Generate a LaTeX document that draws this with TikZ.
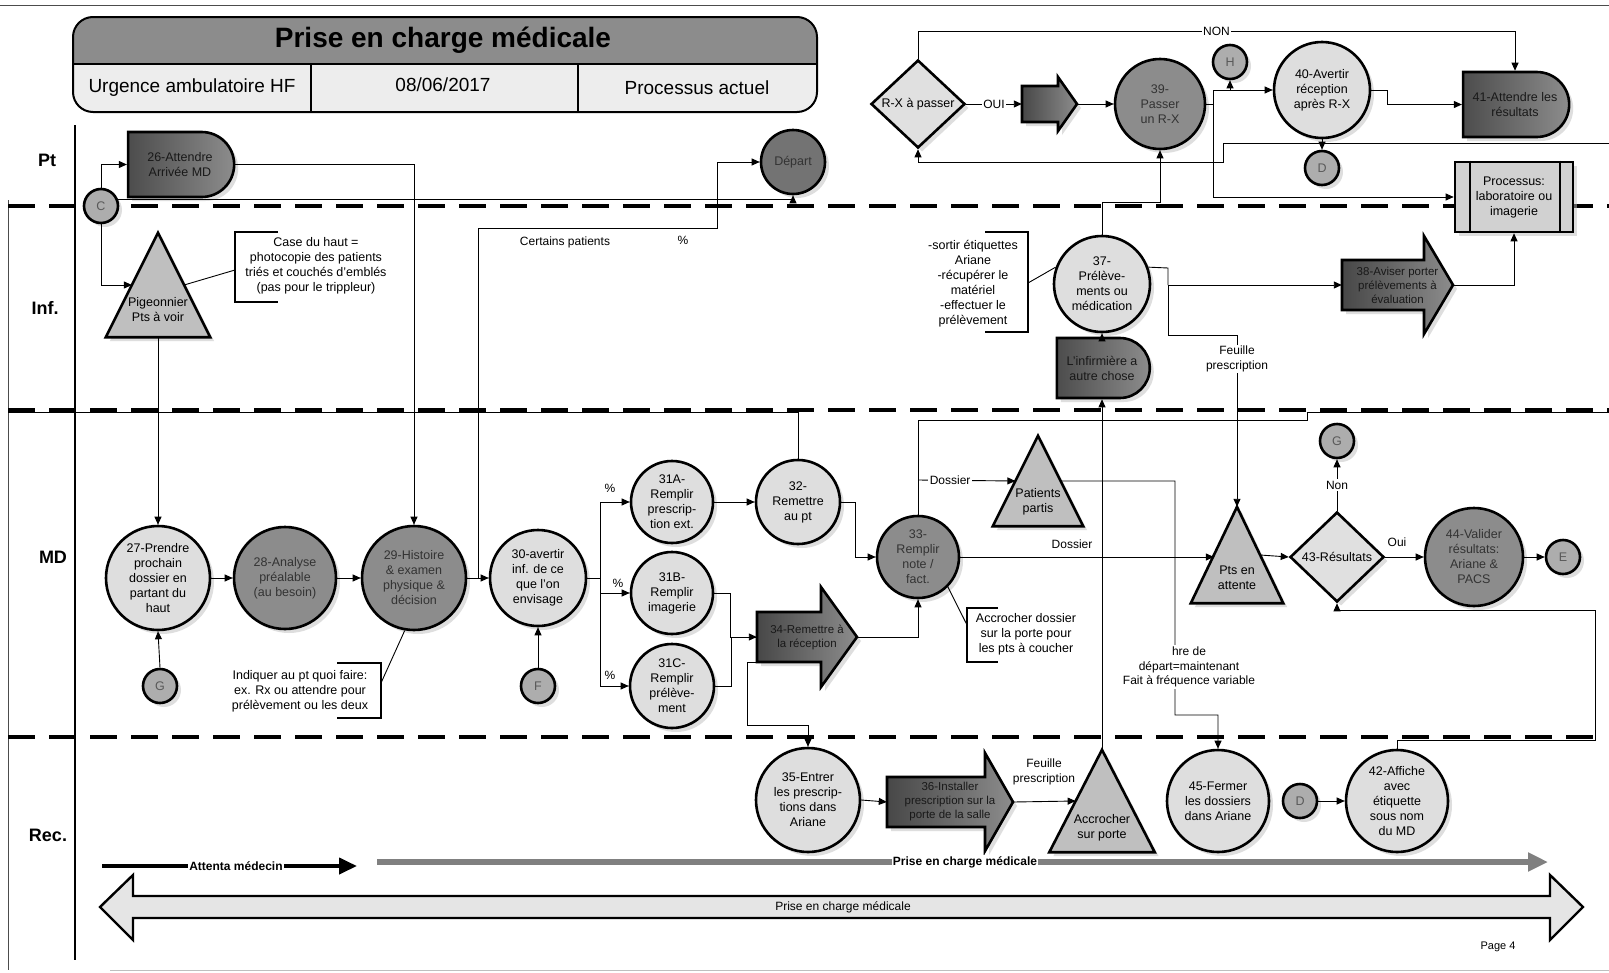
\documentclass[tikz,border=0pt]{standalone}
\usepackage{fontspec}
\setmainfont{Liberation Sans}
\usetikzlibrary{arrows.meta,shapes.geometric,shapes.misc,shadows,calc}
\begin{document}
\begin{tikzpicture}[x=1pt,y=-1pt,
  every node/.style={font=\fontsize{12.5}{15}\selectfont, align=center, inner sep=0pt},
  con/.style={draw=black, line width=0.9pt, -{Triangle[length=8pt,width=7pt]}},
  lin/.style={draw=black, line width=0.9pt},
  shd/.style={drop shadow={shadow xshift=4pt,shadow yshift=-4pt,fill=black!25,opacity=0.5}},
  circ/.style={circle, draw=black, line width=2.6pt, shd},
  light/.style={circ, fill=black!13},
  mid/.style={circ, fill=black!45, text=black!80},
  conn/.style={circle, draw=black, line width=2.6pt, fill=black!32, minimum size=34pt, shd, text=black!65},
  delay/.style={rounded rectangle, rounded rectangle west arc=none, draw=black, line width=2.6pt, left color=black!70, right color=black!45, text=black!90, shd},
  tri/.style={draw=black, line width=2.6pt, fill=black!25, line join=miter, shd},
  barr/.style={draw=black, line width=2.6pt, left color=black!72, right color=black!45, line join=miter, shd},
  dia/.style={diamond, draw=black, line width=2.6pt, fill=black!12, shd},
  lane/.style={font=\fontsize{18}{20}\selectfont\bfseries},
  sep/.style={line width=3.2pt, dash pattern=on 27pt off 14pt},
  brk/.style={draw=black, line width=2.6pt},
  lbl/.style={font=\fontsize{12}{14.5}\selectfont, inner sep=1.5pt},
  small/.style={font=\fontsize{11.5}{14}\selectfont},
]
\useasboundingbox (0,0) rectangle (1609,972);
\fill[white] (0,0) rectangle (1609,972);

% frame
\draw[line width=1pt, black!70] (0,5) -- (1609,5);
\draw[line width=1pt, black!70] (8,200) -- (8,970);
\draw[line width=0.8pt, black!25] (110,970) -- (1609,970);
\draw[line width=2.6pt] (75,125) -- (75,960);
\draw[sep] (8,206) -- (1609,206);
\draw[sep] (8,410) -- (1609,410);
\draw[sep] (8,737) -- (1595,737);

% header
\begin{scope}
\clip[rounded corners=20pt] (73,17) rectangle (817,112);
\fill[black!7] (73,17) rectangle (817,112);
\fill[black!45] (73,17) rectangle (817,64);
\end{scope}
\draw[line width=2pt, rounded corners=20pt] (73,17) rectangle (817,112);
\draw[line width=1.2pt] (73,64) -- (817,64) (311,64) -- (311,112) (578,64) -- (578,112);
\node[font=\fontsize{28}{30}\selectfont\bfseries] (title) at (443,40) {Prise en charge médicale};
\node[font=\fontsize{19}{21}\selectfont] (h1) at (192,88) {Urgence ambulatoire HF};
\node[font=\fontsize{19}{21}\selectfont] (h2) at (443,85) {08/06/2017};
\node[font=\fontsize{19}{21}\selectfont] (h3) at (697,88) {Processus actuel};

% lane labels
\node[lane] (lPt) at (47,160) {Pt};
\node[lane] (lInf) at (45,308) {Inf.};
\node[lane] (lMD) at (53,557) {MD};
\node[lane] (lRec) at (48,835) {Rec.};

% ---------- shapes ----------
% triangles
\node[minimum width=104pt, minimum height=104pt] (Pig) at (158,285) {};
\path[tri] (Pig.north) -- (Pig.south east) -- (Pig.south west) -- cycle;
\node (PigT) at (158,310) {Pigeonnier\\Pts à voir};
\node[minimum width=90pt, minimum height=90pt] (PP) at (1038,481) {};
\path[tri] (PP.north) -- (PP.south east) -- (PP.south west) -- cycle;
\node (PPT) at (1038,502) {Patients\\partis};
\node[minimum width=92pt, minimum height=96pt] (PA) at (1237,555) {};
\path[tri] (PA.north) -- (PA.south east) -- (PA.south west) -- cycle;
\node (PAT) at (1237,578) {Pts en\\attente};
\node[minimum width=105pt, minimum height=102pt] (AC) at (1102,801) {};
\path[tri] (AC.north) -- (AC.south east) -- (AC.south west) -- cycle;
\node (ACT) at (1102,828) {Accrocher\\sur porte};

\coordinate (pigL) at ($(Pig.north)!.5!(Pig.south west)$);
\coordinate (pigR) at ($(Pig.north)!.5!(Pig.south east)$);
\coordinate (ppL) at ($(PP.north)!.5!(PP.south west)$);
\coordinate (ppR) at ($(PP.north)!.5!(PP.south east)$);
\coordinate (paL) at ($(PA.north)!.5!(PA.south west)$);
\coordinate (paR) at ($(PA.north)!.5!(PA.south east)$);
\coordinate (acL) at ($(AC.north)!.5!(AC.south west)$);

% block arrows
\path[barr] (1022,86) -- (1058,86) -- (1058,77) -- (1077,104) -- (1058,131) -- (1058,122) -- (1022,122) -- cycle;
\node[minimum width=55pt, minimum height=54pt] (AX) at (1049.5,104) {};
\path[barr] (757,612) -- (821,612) -- (821,587) -- (857,637) -- (821,687) -- (821,662) -- (757,662) -- cycle;
\node[minimum width=100pt, minimum height=100pt, small, text=black!90] (A34) at (807,637) {34-Remettre à\\la réception};
\path[barr] (887,777) -- (985,777) -- (985,753) -- (1013,802) -- (985,851) -- (985,827) -- (887,827) -- cycle;
\node[minimum width=126pt, minimum height=98pt, small, text=black!90] (A36) at (950,802) {36-Installer\\prescription sur la\\porte de la salle};
\path[barr] (1342,260) -- (1424,260) -- (1424,236) -- (1453,285) -- (1424,334) -- (1424,310) -- (1342,310) -- cycle;
\node[minimum width=111pt, minimum height=98pt, small, text=black!90] (A38) at (1397.5,285) {38-Aviser porter\\prélèvements à\\évaluation};

% delays
\node[delay, minimum width=106pt, minimum height=65pt] (A26) at (180,164.5) {26-Attendre\\Arrivée MD};
\node[delay, minimum width=106pt, minimum height=65pt] (A41) at (1515,104.5) {41-Attendre les\\résultats};
\node[delay, minimum width=93pt, minimum height=60pt] (Linf) at (1102,368) {L'infirmière a\\autre chose};

% process box
\node[draw=black, line width=2.6pt, fill=black!18, minimum width=118pt, minimum height=70pt, shd] (Proc) at (1514,197) {Processus:\\laboratoire ou\\imagerie};
\draw[line width=2pt] ([xshift=16pt]Proc.north west) -- ([xshift=16pt]Proc.south west)
  ([xshift=-14pt]Proc.north east) -- ([xshift=-14pt]Proc.south east);

% diamonds
\node[dia, minimum width=94pt, minimum height=88pt] (RX) at (918,104) {R-X à passer};
\node[dia, minimum width=94pt, minimum height=90pt] (D43) at (1337,557) {43-Résultats};

% circles
\node[light, minimum size=104pt] (H27) at (158,578) {27-Prendre\\prochain\\dossier en\\partant du\\haut};
\node[mid, minimum size=102pt] (H28) at (285,578) {28-Analyse\\préalable\\(au besoin)};
\node[mid, minimum size=104pt] (H29) at (414,578) {29-Histoire\\\& examen\\physique \&\\décision};
\node[light, minimum size=96pt] (H30) at (538,578) {30-avertir\\inf. de ce\\que l'on\\envisage};
\node[light, minimum size=82pt] (H31A) at (672,502) {31A-\\Remplir\\prescrip-\\tion ext.};
\node[light, minimum size=82pt] (H31B) at (672,593) {31B-\\Remplir\\imagerie};
\node[light, minimum size=84pt] (H31C) at (672,686) {31C-\\Remplir\\prélève-\\ment};
\node[light, minimum size=84pt] (H32) at (798,502) {32-\\Remettre\\au pt};
\node[mid, minimum size=82pt] (H33) at (918,557) {33-\\Remplir\\note /\\fact.};
\node[light, minimum size=104pt] (H35) at (808,800) {35-Entrer\\les prescrip-\\tions dans\\Ariane};
\node[light, minimum size=102pt] (H45) at (1218,801) {45-Fermer\\les dossiers\\dans Ariane};
\node[light, minimum size=102pt] (H42) at (1397,801) {42-Affiche\\avec\\étiquette\\sous nom\\du MD};
\node[mid, minimum size=98pt] (H44) at (1474,557) {44-Valider\\résultats:\\Ariane \&\\PACS};
\node[light, minimum size=96pt] (H37) at (1102,284) {37-\\Prélève-\\ments ou\\médication};
\node[mid, minimum size=90pt] (H39) at (1160,104) {39-\\Passer\\un R-X};
\node[light, minimum size=96pt] (H40) at (1322,90) {40-Avertir\\réception\\après R-X};
\node[circ, fill=black!55, text=black!80, minimum size=64pt] (Dep) at (793,162) {Départ};

% connectors
\node[conn] (cC) at (101,206) {C};
\node[conn] (cG1) at (160,686) {G};
\node[conn] (cF) at (538,686) {F};
\node[conn] (cH) at (1230,62) {H};
\node[conn] (cD1) at (1322,168) {D};
\node[conn] (cG2) at (1337,441) {G};
\node[conn] (cE) at (1563,557) {E};
\node[conn] (cD2) at (1300,801) {D};

% annotations
\draw[brk] (278,232) -- (235,232) -- (235,302) -- (278,302);
\node (ann1) at (316,266) {Case du haut =\\photocopie des patients\\triés et couchés d'emblés\\(pas pour le trippleur)};
\coordinate (br1) at (235,270);
\draw[brk] (985,232) -- (1028,232) -- (1028,332) -- (985,332);
\node (ann2) at (973,284) {-sortir étiquettes\\Ariane\\-récupérer le\\matériel\\-effectuer le\\prélèvement};
\coordinate (br2) at (1028,283);
\draw[brk] (337,663) -- (381,663) -- (381,718) -- (337,718);
\node (ann3) at (300,691) {Indiquer au pt quoi faire:\\ex. Rx ou attendre pour\\prélèvement ou les deux};
\coordinate (br3) at (381,683);
\draw[brk] (998,608) -- (967,608) -- (967,662) -- (998,662);
\node (ann4) at (1026,634) {Accrocher dossier\\sur la porte pour\\les pts à coucher};
\coordinate (br4) at (967,625);

% free ends
\coordinate (br30) at (478,578);
\coordinate (fr1) at (8,412);
\coordinate (fr2) at (1609,412);
\coordinate (rxin) at (1609,143);
\coordinate (a34b) at (757,662);

% ---------- connectors ----------
\draw[con] (cC.north) |- (A26.west);
\draw[con] (cC.south) |- (pigL);
\draw[con] (cC.20) -| (Dep.south);
\draw[con] (A26.east) -| (H29.north);
\draw[con] (Pig.south) -- (H27.north);
\draw[lin] (pigR) -- (br1);
\draw[con] (cG1.north) -- (H27.south);
\draw[con] (H27.east) -- (H28.west);
\draw[con] (H28.east) -- (H29.west);
\draw[con] (H29.east) -- (H30.west);
\draw[lin] (H29.-100) -- (br3);
\draw[con] (br30) -- (478,228) -- (717,228) |- (Dep.west);
\node[lbl] (lcp) at (565,242) {Certains patients};
\node[lbl] (lpc0) at (683,240) {\%};
\draw[con] (cF.north) -- (H30.south);
\draw[lin] (H30.east) -- (600,578);
\draw[con] (600,578) |- (H31A.west);
\draw[con] (600,578) |- (H31B.west);
\draw[con] (600,578) |- (H31C.west);
\node[lbl] (lpc1) at (610,488) {\%};
\node[lbl] (lpc2) at (618,583) {\%};
\node[lbl] (lpc3) at (610,675) {\%};
\draw[con] (H31A.east) -- (H32.west);
\draw[con] (H32.east) -- (855,502) |- (H33.west);
\draw[lin] (H32.north) |- (fr1);
\draw[con] (H31B.east) -- ++(16,0) |- (A34.west);
\draw[lin] (H31C.east) -- ++(16,0) |- (A34.west);
\draw[con] (A34.east) -| (H33.south);
\draw[con] (a34b) -- (747,662) -- (747,725) -| (H35.north);
\draw[lin] (H33.-45) -- (br4);
\draw[lin] (H33.north) -- (918,420) -- (1307,420) -- (1307,412) -- (fr2);
\draw[con] (918,480) -- (ppL) node[pos=.33, fill=white, lbl] (ldos1) {Dossier};
\draw[con] (H33.east) -- (paL |- H33.east);
\node[lbl] (ldos2) at (1072,544) {Dossier};
\draw[con] (ppR) -- (1175,481) -- (1175,715) -| (H45.north);
\node[lbl, fill=white] (lhre) at (1189,667) {hre de\\départ=maintenant\\Fait à fréquence variable};
\draw[con] (paR) -- (D43.west);
\draw[con] (D43.north) -- (cG2.south) node[midway, fill=white, lbl] (lnon) {Non};
\draw[con] (D43.east) -- (H44.west);
\node[lbl] (loui) at (1397,542) {Oui};
\draw[con] (H44.east) -- (cE.west);
\draw[con] (H42.north) -- (1397,740) -- (1595,740) -- (1595,610) -| (D43.south);
\draw[con] (cD2.east) -- (H42.west);
\draw[con] (H35.east) -- (A36.west);
\draw[con] (A36.east) -- (acL);
\node[lbl] (lfp2) at (1044,772) {Feuille\\prescription};
\draw[con] (AC.north) -- (Linf.south);
\draw[con] (Linf.north) -- (H37.south);
\draw[lin] (br2) -- (H37.160);
\draw[con] (H37.north) -- (1102,202) -| (H39.south);
\draw[lin] (H37.20) -- (1168,268) -- (1168,285);
\draw[con] (1168,285) -- (A38.west);
\draw[con] (1168,285) -- (1168,335) -| (PA.north);
\node[lbl, fill=white] (lfp1) at (1237,359) {Feuille\\prescription};
\draw[con] (A38.east) -| (Proc.south);
\draw[con] (RX.east) -- (AX.west) node[midway, fill=white, lbl] (loui2) {OUI};
\draw[con] (AX.east) -- (H39.west);
\draw[con] (RX.north) -- ++(0,-27) -| (A41.north) node[pos=.25, fill=white, lbl] (lnon2) {NON};
\draw[con] (rxin) -- (1223,143) -- (1223,162) -- (918,162) -- (RX.south);
\draw[lin] (H39.east) -- (1213,104);
\draw[con] (1213,104) |- (H40.west);
\draw[con] (1213,104) |- (Proc.west);
\draw[con] (1230,90) -- (cH.south);
\draw[con] (H40.east) -- (1387,90) |- (A41.west);
\draw[con] (H40.south) -- (cD1.north);

% ---------- bottom timeline ----------
\coordinate (att0) at (102,866);
\coordinate (att1) at (357,866);
\draw[line width=4pt, -{Triangle[length=18pt,width=16pt]}] (att0) -- (att1);
\node[fill=white, font=\fontsize{12}{14}\selectfont\bfseries, inner sep=1pt] (attl) at (236,866) {Attenta médecin};
\coordinate (pc0) at (377,862);
\coordinate (pc1) at (1548,862);
\draw[line width=6pt, black!50, -{Triangle[length=20pt,width=18pt]}] (pc0) -- (pc1);
\node[fill=white, font=\fontsize{12}{14}\selectfont\bfseries, inner sep=1pt] (pcl) at (965,862) {Prise en charge médicale};
\filldraw[fill=black!10, draw=black, line width=2.4pt, line join=miter]
  (100,907) -- (133,875) -- (133,896) -- (1550,896) -- (1550,875) -- (1583,907)
  -- (1550,940) -- (1550,918) -- (133,918) -- (133,940) -- cycle;
\node[font=\fontsize{12}{14}\selectfont] (pcm) at (843,907) {Prise en charge médicale};
\node[font=\fontsize{11}{13}\selectfont] (pg) at (1498,947) {Page 4};
\end{tikzpicture}
\end{document}
